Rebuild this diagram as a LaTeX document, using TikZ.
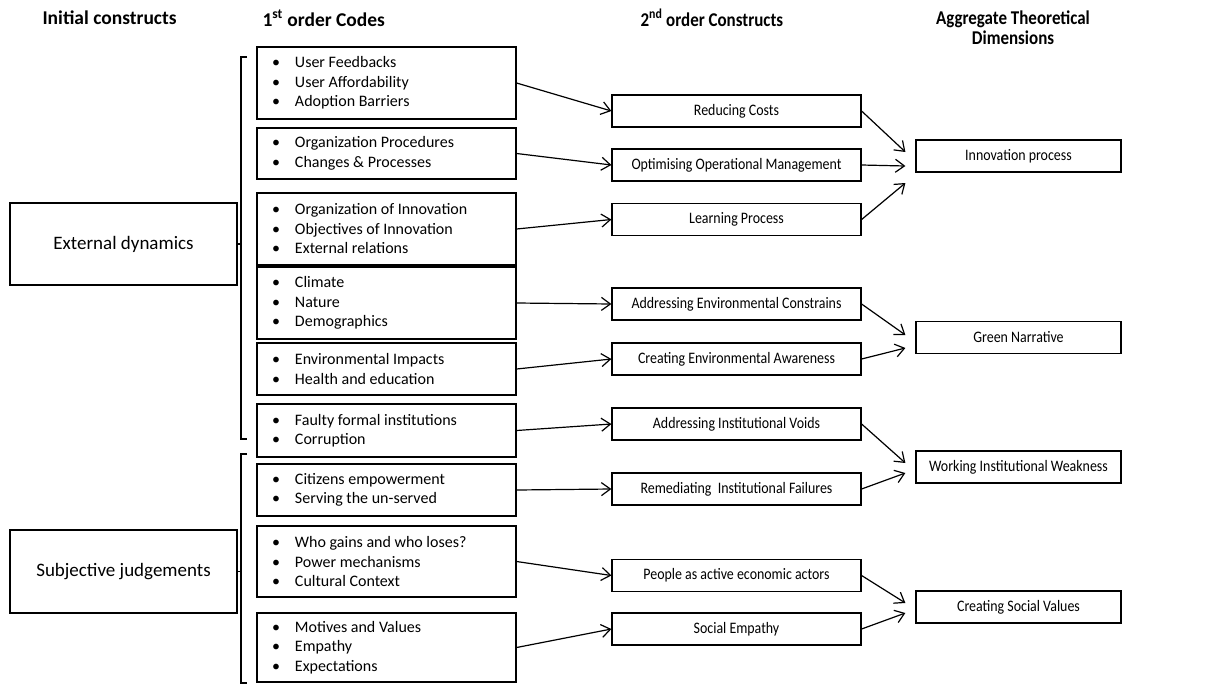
\documentclass[tikz,border=0pt]{standalone}
\usepackage{fontspec}
\setmainfont{Carlito}
\newfontfamily\narrowfont{Carlito}[FakeStretch=0.87]
\usetikzlibrary{arrows.meta}

\newcommand{\bul}{\makebox[23pt][l]{\textbullet}}

\begin{document}
\begin{tikzpicture}[x=1pt,y=-1pt,
  box/.style={draw,line width=1.2pt,inner sep=0pt,font=\narrowfont\fontsize{16}{19.5}\selectfont},
  initbox/.style={box,minimum width=227pt,font=\fontsize{19}{22}\selectfont},
  codebox/.style={box,minimum width=259pt,text width=229pt,inner xsep=15pt,align=flush left,
    font=\fontsize{16}{19.5}\selectfont},
  link/.style={line width=1.2pt,-{Straight Barb[length=9pt,width=13pt]}},
  head/.style={font=\bfseries\fontsize{19.5}{20}\selectfont},
  narrowhead/.style={font=\narrowfont\bfseries\fontsize{19.5}{20}\selectfont}]
\useasboundingbox (0,0) rectangle (1208,686);

% column titles
\node[head,anchor=west] (h1) at (39,18) {Initial constructs};
\node[head,anchor=west] (h2) at (259,18) {1\textsuperscript{st} order Codes};
\node[narrowhead,anchor=west] (h3) at (637,18) {2\textsuperscript{nd} order Constructs};
\node[narrowhead,align=center] (h4) at (1013,28) {Aggregate Theoretical\\Dimensions};

% initial constructs
\node[initbox,minimum height=82pt] (ext) at (123.5,244) {External dynamics};
\node[initbox,minimum height=83pt] (sub) at (123.5,571.5) {Subjective judgements};

% 1st order codes
\foreach \n/\y/\h/\t in {
  1/83/72/{\bul User Feedbacks\\\bul User Affordability\\\bul Adoption Barriers},
  2/153.5/51/{\bul Organization Procedures\\\bul Changes \& Processes},
  3/229/72/{\bul Organization of Innovation\\\bul Objectives of Innovation\\\bul External relations},
  4/303/72/{\bul Climate\\\bul Nature\\\bul Demographics},
  5/369/52/{\bul Environmental Impacts\\\bul Health and education},
  6/430.5/53/{\bul Faulty formal institutions\\\bul Corruption},
  7/490/52/{\bul Citizens empowerment\\\bul Serving the un-served},
  8/561.5/71/{\bul Who gains and who loses?\\\bul Power mechanisms\\\bul Cultural Context},
  9/647.5/69/{\bul Motives and Values\\\bul Empathy\\\bul Expectations}}
  {\node[codebox,minimum height=\h pt] (c\n) at (386.5,\y) {\t};}

% 2nd order constructs
\foreach \n/\y/\t in {
  1/111/Reducing Costs,
  2/165/Optimising Operational Management,
  3/219.5/Learning Process,
  4/304/Addressing Environmental Constrains,
  5/359/Creating Environmental Awareness,
  6/424/Addressing Institutional Voids,
  7/489/Remediating\ \ Institutional Failures,
  8/575.5/People as active economic actors,
  9/629/Social Empathy}
  {\node[box,minimum width=249pt,minimum height=32pt] (r\n) at (736.5,\y) {\t};}

% aggregate dimensions
\foreach \n/\y/\t in {1/156/Innovation process,2/337.5/Green Narrative,
  3/467/Working Institutional Weakness,4/607/Creating Social Values}
  {\node[box,minimum width=205pt,minimum height=32pt] (a\n) at (1018.5,\y) {\t};}

% brackets
\coordinate (b1top) at (247,57);
\coordinate (b1bot) at (247,439);
\coordinate (b2top) at (247,454);
\coordinate (b2bot) at (247,683);
\draw[line width=1.2pt] (b1top) -- ++(-6,0) |- (b1bot);
\draw[line width=1.2pt] (b2top) -- ++(-6,0) |- (b2bot);
\draw[line width=1.2pt] (ext.east) -- ([xshift=-6pt]ext.east -| b1top);
\draw[line width=1.2pt] (sub.east) -- ([xshift=-6pt]sub.east -| b2top);

% links
\foreach \i in {1,...,9} {\draw[link] (c\i.east) -- (r\i.west);}
\foreach \i/\a/\s in {1/1/4,2/1/-10,3/1/-27,4/2/2.5,5/2/-10.5,6/3/4,7/3/-6,8/4/4,9/4/-6}
  {\draw[link] (r\i.east) -- ([xshift=-10pt,yshift=\s pt]a\a.west);}
\end{tikzpicture}
\end{document}
